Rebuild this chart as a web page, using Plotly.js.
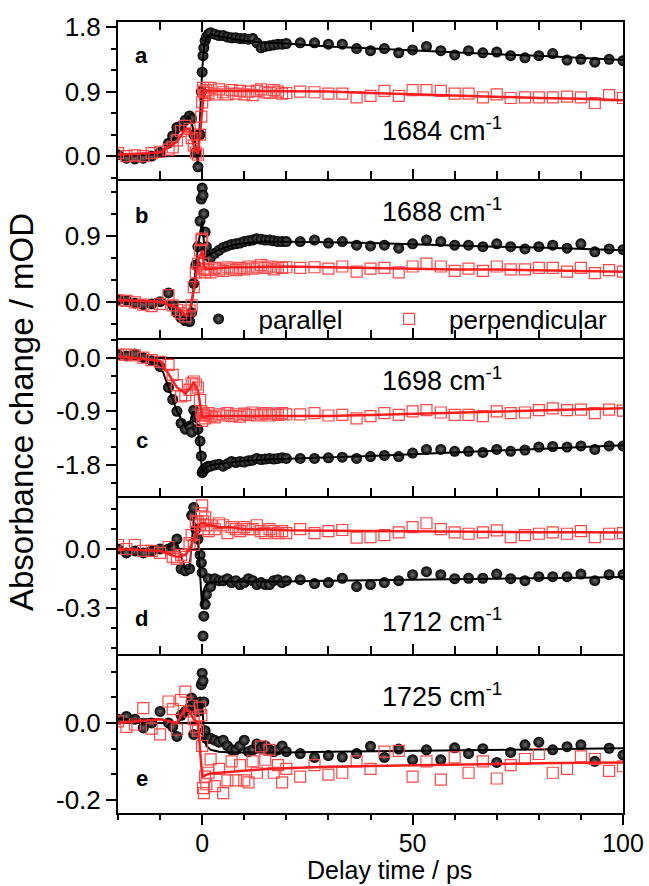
<!DOCTYPE html>
<html>
<head>
<meta charset="utf-8">
<script src="https://cdn.plot.ly/plotly-3.0.1.min.js"></script>
<style>html,body{margin:0;padding:0;background:#fff;}</style>
</head>
<body>
<div id="chart" style="width:649px;height:886px;"></div>
<script>
// Delay times (ps)
const T = [-20,-18,-16,-14,-12,-10,-8,-7,-6,-5,-4,-3,-2.5,-2,-1.5,-1,-0.5,-0.2,
  0,0.2,0.4,0.7,1,1.5,
  2,3,4,5,6,7,8,9,10,11,12,13,14,15,16,17,18,19,20,
  23.3,26.7,30,33.3,36.7,40,43.3,46.7,50,53.3,56.7,60,63.3,66.7,70,73.3,76.7,80,83.3,86.7,90,93.3,96.7,100];

// Panel a: 1684 cm-1
const aPar = [0.02,-0.03,-0.04,-0.03,0.00,0.05,0.18,0.28,0.40,0.42,0.50,0.56,0.52,0.30,0.05,-0.15,0.30,0.90,
  1.17,1.40,1.51,1.61,1.66,1.70,
  1.72,1.70,1.68,1.68,1.66,1.65,1.65,1.64,1.64,1.63,1.64,1.58,1.51,1.53,1.54,1.55,1.56,1.56,1.57,
  1.58,1.58,1.56,1.56,1.50,1.47,1.50,1.44,1.48,1.53,1.47,1.41,1.47,1.44,1.45,1.40,1.37,1.40,1.43,1.34,1.35,1.31,1.35,1.33];
const aPerp = [0.04,0.00,0.01,0.00,0.04,0.06,0.09,0.12,0.22,0.35,0.42,0.38,0.25,0.15,0.05,0.02,0.30,0.55,
  0.75,0.95,0.90,0.85,0.92,0.88,
  0.95,0.86,0.93,0.89,0.86,0.92,0.87,0.91,0.86,0.90,0.85,0.91,0.93,0.89,0.88,0.92,0.90,0.87,0.88,
  0.90,0.89,0.87,0.87,0.82,0.84,0.91,0.84,0.92,0.92,0.91,0.87,0.87,0.82,0.86,0.81,0.82,0.82,0.82,0.83,0.82,0.74,0.85,0.81];

// Panel b: 1688 cm-1
const bPar = [0.03,0.02,-0.02,-0.04,-0.03,0.00,0.12,-0.05,-0.15,-0.22,-0.26,-0.27,-0.15,0.25,0.50,0.75,1.10,1.40,
  1.55,1.45,1.20,0.95,0.75,0.62,
  0.60,0.66,0.70,0.74,0.76,0.78,0.79,0.80,0.82,0.83,0.84,0.86,0.85,0.84,0.84,0.83,0.82,0.82,0.82,
  0.82,0.84,0.80,0.82,0.77,0.76,0.77,0.73,0.79,0.84,0.82,0.77,0.77,0.75,0.79,0.75,0.72,0.75,0.77,0.73,0.79,0.68,0.72,0.71];
const bPerp = [0.02,0.01,-0.01,-0.04,-0.06,-0.03,0.09,-0.05,-0.11,-0.16,-0.20,-0.12,-0.05,0.20,0.40,0.52,0.70,0.84,
  0.86,0.52,0.44,0.40,0.45,0.43,
  0.40,0.46,0.44,0.42,0.47,0.45,0.43,0.46,0.44,0.48,0.45,0.47,0.50,0.46,0.48,0.44,0.47,0.46,0.47,
  0.46,0.47,0.45,0.48,0.41,0.45,0.46,0.40,0.48,0.52,0.48,0.42,0.45,0.42,0.48,0.44,0.44,0.46,0.46,0.41,0.46,0.39,0.43,0.41];

// Panel c: 1698 cm-1
const cPar = [0.05,0.03,0.06,0.00,-0.05,-0.15,-0.50,-0.70,-0.90,-1.10,-1.20,-1.15,-1.25,-0.88,-1.00,-1.20,-1.40,-1.65,
  -1.93,-1.90,-1.88,-1.86,-1.84,-1.82,
  -1.82,-1.80,-1.79,-1.82,-1.78,-1.74,-1.76,-1.74,-1.75,-1.73,-1.72,-1.69,-1.71,-1.70,-1.69,-1.70,-1.69,-1.68,-1.69,
  -1.69,-1.69,-1.68,-1.67,-1.69,-1.66,-1.64,-1.66,-1.60,-1.54,-1.54,-1.57,-1.57,-1.59,-1.54,-1.57,-1.55,-1.50,-1.49,-1.50,-1.48,-1.54,-1.48,-1.48];
const cPerp = [0.05,0.05,0.04,0.00,-0.04,-0.07,-0.12,-0.29,-0.46,-0.65,-0.63,-0.54,-0.43,-0.40,-0.45,-0.50,-0.71,-0.90,
  -1.06,-0.97,-0.95,-1.02,-0.97,-0.93,
  -0.98,-1.00,-0.95,-0.97,-0.93,-0.98,-0.95,-0.99,-0.94,-0.96,-0.92,-0.97,-0.95,-0.93,-0.97,-0.94,-0.96,-0.93,-0.95,
  -0.95,-0.93,-0.97,-0.96,-1.02,-0.98,-0.93,-0.96,-0.90,-0.88,-0.92,-0.96,-0.96,-0.98,-0.90,-0.93,-0.92,-0.88,-0.85,-0.88,-0.87,-0.93,-0.87,-0.89];

// Panel d: 1712 cm-1
const dPar = [0.00,-0.02,-0.01,-0.02,-0.01,0.00,0.00,0.01,0.05,-0.10,-0.11,-0.10,0.17,0.21,0.10,0.05,-0.03,-0.07,
  -0.12,-0.44,-0.34,-0.28,-0.23,-0.15,
  -0.19,-0.15,-0.16,-0.16,-0.15,-0.17,-0.16,-0.18,-0.17,-0.15,-0.16,-0.18,-0.17,-0.18,-0.18,-0.16,-0.155,-0.17,-0.16,
  -0.155,-0.175,-0.17,-0.148,-0.19,-0.18,-0.17,-0.16,-0.13,-0.115,-0.13,-0.15,-0.148,-0.148,-0.127,-0.15,-0.16,-0.14,-0.14,-0.14,-0.127,-0.16,-0.13,-0.13];
const dPerp = [0.02,0.00,0.02,-0.01,-0.01,-0.02,0.01,-0.04,-0.05,-0.03,-0.04,0.03,0.07,0.02,0.14,0.14,0.12,0.18,
  0.22,0.14,0.10,0.16,0.12,0.09,
  0.12,0.10,0.13,0.12,0.08,0.11,0.10,0.09,0.11,0.10,0.10,0.12,0.09,0.08,0.10,0.09,0.08,0.09,0.08,
  0.10,0.08,0.09,0.096,0.057,0.06,0.07,0.084,0.11,0.13,0.10,0.084,0.077,0.084,0.094,0.06,0.07,0.077,0.084,0.077,0.09,0.06,0.077,0.08];

// Panel e: 1725 cm-1
const ePar = [0.01,0.017,0.01,-0.013,0.00,0.03,0.00,-0.01,-0.035,0.02,0.03,0.04,0.065,-0.03,0.05,0.03,0.055,0.10,
  0.13,0.11,0.055,-0.02,-0.04,-0.04,
  -0.04,-0.045,-0.05,-0.045,-0.06,-0.07,-0.07,-0.06,-0.045,-0.075,-0.07,-0.055,-0.065,-0.06,-0.07,-0.075,-0.07,-0.06,-0.075,
  -0.08,-0.09,-0.085,-0.089,-0.08,-0.061,-0.09,-0.068,-0.096,-0.07,-0.096,-0.065,-0.08,-0.067,-0.103,-0.077,-0.057,-0.05,-0.07,-0.062,-0.057,-0.10,-0.066,-0.084];
const ePerp = [0.004,-0.01,-0.004,0.039,-0.015,-0.03,0.056,0.036,-0.017,0.06,0.082,0.03,0.045,0.01,-0.01,-0.02,0.04,0.02,
  -0.06,-0.17,-0.183,-0.14,-0.16,-0.13,
  -0.095,-0.165,-0.12,-0.183,-0.15,-0.10,-0.15,-0.11,-0.15,-0.155,-0.10,-0.13,-0.061,-0.096,-0.07,-0.13,-0.11,-0.155,-0.12,
  -0.14,-0.11,-0.135,-0.13,-0.10,-0.12,-0.075,-0.073,-0.14,-0.10,-0.148,-0.09,-0.13,-0.10,-0.145,-0.11,-0.094,-0.081,-0.13,-0.12,-0.087,-0.094,-0.125,-0.113];

// Fit curves
const FT = [-20,-10,-6,-4,-3,-2,-1,0,0.5,1,2,4,7,10,15,20,30,40,50,60,70,80,90,100];
const aParFit  = [0.0,0.03,0.30,0.48,0.55,0.35,-0.12,1.20,1.55,1.66,1.70,1.67,1.64,1.61,1.58,1.57,1.53,1.50,1.48,1.45,1.42,1.40,1.37,1.34];
const aPerpFit = [0.02,0.05,0.20,0.38,0.38,0.15,0.03,0.70,0.93,0.91,0.91,0.90,0.90,0.90,0.90,0.90,0.90,0.88,0.86,0.85,0.83,0.81,0.80,0.78];
const bParFit  = [0.0,0.0,-0.08,-0.22,-0.25,0.20,0.75,1.10,0.75,0.62,0.65,0.71,0.77,0.80,0.82,0.82,0.81,0.80,0.78,0.77,0.75,0.74,0.72,0.70];
const bPerpFit = [0.02,0.0,-0.08,-0.18,-0.12,0.15,0.55,0.70,0.48,0.44,0.45,0.46,0.47,0.47,0.48,0.48,0.47,0.46,0.45,0.44,0.44,0.43,0.42,0.41];
const cParFit  = [0.02,-0.10,-0.90,-1.15,-1.10,-0.90,-1.20,-1.90,-1.88,-1.84,-1.80,-1.78,-1.75,-1.73,-1.71,-1.70,-1.68,-1.65,-1.62,-1.59,-1.56,-1.53,-1.50,-1.47];
const cPerpFit = [0.02,-0.05,-0.50,-0.60,-0.52,-0.42,-0.55,-1.00,-1.00,-0.98,-0.98,-0.98,-0.98,-0.98,-0.98,-0.98,-0.98,-0.96,-0.94,-0.92,-0.90,-0.89,-0.87,-0.85];
const dParFit  = [0.0,-0.01,0.03,-0.10,-0.10,0.15,0.05,-0.30,-0.20,-0.18,-0.17,-0.165,-0.165,-0.165,-0.165,-0.165,-0.16,-0.158,-0.155,-0.152,-0.15,-0.147,-0.145,-0.142];
const dPerpFit = [0.0,-0.01,-0.04,-0.03,0.0,0.05,0.12,0.13,0.13,0.12,0.12,0.11,0.11,0.10,0.10,0.095,0.092,0.09,0.088,0.087,0.086,0.085,0.084,0.083];
const eParFit  = [0.01,0.01,0.0,0.02,0.04,0.03,0.05,0.05,-0.04,-0.06,-0.07,-0.075,-0.077,-0.077,-0.077,-0.077,-0.075,-0.074,-0.073,-0.071,-0.07,-0.069,-0.067,-0.066];
const ePerpFit = [0.0,0.01,0.0,0.04,0.03,0.01,0.0,-0.14,-0.138,-0.135,-0.132,-0.13,-0.127,-0.125,-0.12,-0.118,-0.114,-0.112,-0.11,-0.108,-0.107,-0.105,-0.104,-0.103];

// Labels and ticks
const panelLetters = ['a','b','c','d','e'];
const wavenumbers = ['1684','1688','1698','1712','1725'];
const seriesNames = ['parallel','perpendicular'];
const xTickVals = [0,50,100];
const xTickText = ['0','50','100'];
const yTickVals = [[0,0.9,1.8],[0,0.9],[-1.8,-0.9,0],[-0.3,0],[-0.2,0]];
const yTickText = [['0.0','0.9','1.8'],['0.0','0.9'],['-1.8','-0.9','0.0'],['-0.3','0.0'],['-0.2','0.0']];

const panels = [
  {par:aPar, perp:aPerp, parFit:aParFit, perpFit:aPerpFit},
  {par:bPar, perp:bPerp, parFit:bParFit, perpFit:bPerpFit},
  {par:cPar, perp:cPerp, parFit:cParFit, perpFit:cPerpFit},
  {par:dPar, perp:dPerp, parFit:dParFit, perpFit:dPerpFit},
  {par:ePar, perp:ePerp, parFit:eParFit, perpFit:ePerpFit}
];

// layout geometry
const domains = [[0.8015,1],[0.6005,0.8015],[0.4008,0.6005],[0.2010,0.4008],[0,0.2010]];
const ranges = [[-0.32,1.87],[-0.495,1.673],[-2.32,0.33],[-0.531,0.268],[-0.235,0.18]];
const minorDt = [0.3,0.3,0.3,0.1,0.2/3];
const FONT = 'Arial, "Liberation Sans", sans-serif';
const RED = 'rgb(255,30,30)';
const SQ = 'rgb(255,70,70)';
const NBSP = '\u00a0';

const traces = [];
panels.forEach((p,i)=>{
  const xa = i===0?'x':'x'+(i+1);
  const ya = i===0?'y':'y'+(i+1);
  traces.push({x:T, y:p.par, xaxis:xa, yaxis:ya, type:'scatter', mode:'markers', name:seriesNames[0]+NBSP+NBSP+NBSP,
    showlegend:i===1,
    marker:{symbol:'circle', size:11, color:'#000', gradient:{type:'radial', color:'#6a6a6a'}, line:{width:0}}});
  traces.push({x:FT, y:p.parFit, xaxis:xa, yaxis:ya, type:'scatter', mode:'lines', showlegend:false,
    line:{color:'#000', width:2}, hoverinfo:'skip'});
  traces.push({x:T, y:p.perp, xaxis:xa, yaxis:ya, type:'scatter', mode:'markers', name:seriesNames[1],
    showlegend:i===1,
    marker:{symbol:'square-open', size:11, color:SQ, line:{width:1.2, color:SQ}}});
  traces.push({x:FT, y:p.perpFit, xaxis:xa, yaxis:ya, type:'scatter', mode:'lines', showlegend:false,
    line:{color:RED, width:2.5}, hoverinfo:'skip'});
});

const layout = {
  width:649, height:886,
  margin:{l:118, r:26, t:22, b:73},
  paper_bgcolor:'#fff', plot_bgcolor:'#fff',
  font:{family:FONT, size:26, color:'#000'},
  showlegend:true,
  legend:{orientation:'h', x:0.12, y:0.6245, xanchor:'left', yanchor:'middle',
    bgcolor:'rgba(0,0,0,0)', font:{family:FONT, size:26, color:'#000'}, itemwidth:70,
    traceorder:'normal', itemclick:false},
  annotations:[]
};

for(let i=0;i<5;i++){
  const xk = i===0?'xaxis':'xaxis'+(i+1);
  const yk = i===0?'yaxis':'yaxis'+(i+1);
  const yname = i===0?'y':'y'+(i+1);
  const bottom = i===4;
  layout[xk] = {
    anchor:yname, domain:[0,1], range:[-20,100],
    showline:true, linecolor:'#000', linewidth:2, mirror: i===0?'allticks':false,
    zeroline:false, showgrid:false,
    tickmode:'array', tickvals:xTickVals, ticktext:xTickText,
    ticks: bottom?'outside':'inside', ticklen:10, tickwidth:2, tickcolor:'#000',
    showticklabels:bottom, tickfont:{family:FONT, size:25, color:'#000'},
    ticklabelstandoff: bottom?-3:0,
    minor:{tickmode:'linear', tick0:0, dtick:10, ticks: bottom?'outside':'inside', ticklen:bottom?5:8, tickwidth:2, tickcolor:'#000', showgrid:false}
  };
  if(!bottom) layout[xk].matches = 'x5';
  layout[yk] = {
    anchor: i===0?'x':'x'+(i+1), domain:domains[i], range:ranges[i],
    showline:true, linecolor:'#000', linewidth:2, mirror:true,
    showgrid:false, zeroline:true, zerolinecolor:'#000', zerolinewidth:2,
    tickmode:'array', tickvals:yTickVals[i], ticktext:yTickText[i],
    ticks:'outside', ticklen:10, tickwidth:2, tickcolor:'#000',
    tickfont:{family:FONT, size:26, color:'#000'},
    minor:{tickmode:'linear', tick0:0, dtick:minorDt[i], ticks:'outside', ticklen:5, tickwidth:2, tickcolor:'#000', showgrid:false}
  };
  // right-hand axis with inward ticks
  const rk = 'yaxis'+(i+6);
  layout[rk] = {
    overlaying: yname, side:'right', anchor: i===0?'x':'x'+(i+1), range:ranges[i],
    showline:false, showgrid:false, zeroline:false, showticklabels:false,
    tickmode:'array', tickvals:yTickVals[i], ticks:'inside', ticklen:7, tickwidth:2, tickcolor:'#000',
    minor:{tickmode:'linear', tick0:0, dtick:minorDt[i], ticks:'inside', ticklen:5, tickwidth:2, tickcolor:'#000', showgrid:false}
  };
}

const letterY = [0.958,0.756,0.4703,0.2465,0.0442];
const waveY = [0.8647,0.7623,0.5487,0.244,0.1492];
for(let i=0;i<5;i++){
  layout.annotations.push({xref:'paper', yref:'paper', x:0.0475, y:letterY[i], xanchor:'center', yanchor:'middle',
    text:'<b>'+panelLetters[i]+'</b>', showarrow:false, font:{family:FONT, size:22, color:'#000'}});
  layout.annotations.push({xref:'paper', yref:'paper', x:0.519, y:waveY[i], xanchor:'left', yanchor:'middle',
    text:wavenumbers[i]+' cm<sup>-1</sup>', showarrow:false, font:{family:FONT, size:27, color:'#000'}});
}
layout.annotations.push({xref:'paper', yref:'paper', x:0.5386, y:-0.0715, xanchor:'center', yanchor:'middle',
  text:'Delay time / ps', showarrow:false, font:{family:FONT, size:25, color:'#000'}});
layout.annotations.push({xref:'paper', yref:'paper', x:-0.19, y:0.507, xanchor:'center', yanchor:'middle', textangle:-90,
  text:'Absorbance change / mOD', showarrow:false, font:{family:FONT, size:33, color:'#000'}});

Plotly.newPlot('chart', traces, layout, {staticPlot:true, displayModeBar:false});
</script>
</body>
</html>
